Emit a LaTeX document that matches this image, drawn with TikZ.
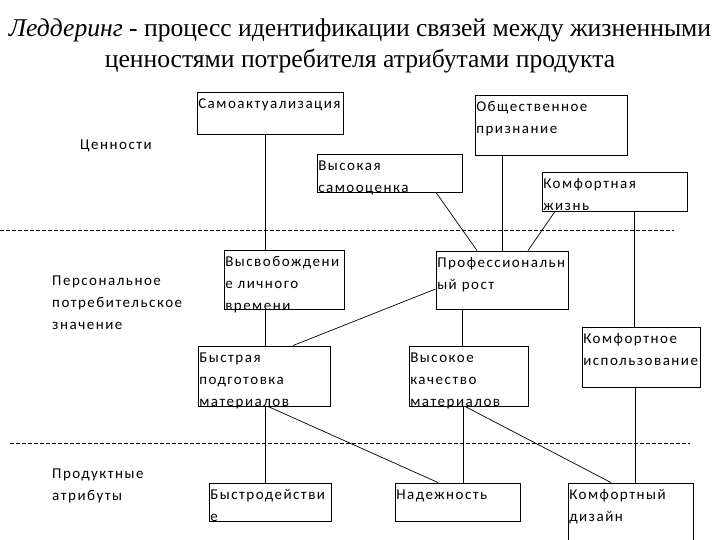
\documentclass[tikz,border=0pt]{standalone}
\usepackage{fontspec}
\setmainfont{Carlito}[LetterSpace=10]
\newfontfamily\titlefont{Liberation Serif}
\usetikzlibrary{fit}
\begin{document}
\begin{tikzpicture}[x=1pt,y=-1pt,
  box/.style={draw, line width=0.9pt, inner sep=0pt},
  txt/.style={anchor=north west, inner sep=0pt, align=left, xshift=1.5pt, yshift=-7pt, font=\fontsize{15}{22}\selectfont},
  lbl/.style={inner sep=0pt, align=left, font=\fontsize{15}{22}\selectfont},
  link/.style={line width=0.7pt},
  sep/.style={line width=0.7pt, dash pattern=on 4pt off 2pt}]
\useasboundingbox (0,0) rectangle (720,540);
% title
\node[inner sep=0pt, align=center, font=\titlefont\fontsize{25.6}{31}\selectfont] (title) at (360,46)
  {\textit{Леддеринг} - процесс идентификации связей между жизненными\\ценностями потребителя атрибутами продукта};
% row labels
\node[lbl] (lv) at (116,146) {Ценности};
\node[lbl, anchor=west] (lp) at (52,303) {Персональное\\потребительское\\значение};
\node[lbl, anchor=west] (la) at (52,486) {Продуктные\\атрибуты};
% separators
\coordinate (s1a) at (0,230); \coordinate (s1b) at (674,230);
\coordinate (s2a) at (10,443); \coordinate (s2b) at (690,443);
\draw[sep] (s1a) -- (s1b);
\draw[sep] (s2a) -- (s2b);
% boxes
\node[box, fit={(197,92) (343,134)}] (sa) {};
\node[txt] at (sa.north west) {Самоактуализация};
\node[box, fit={(475,95) (627,155)}] (op) {};
\node[txt] at (op.north west) {Общественное\\признание};
\node[box, fit={(317,154) (462,192)}] (vs) {};
\node[txt] at (vs.north west) {Высокая\\самооценка};
\node[box, fit={(542,172) (687,211)}] (kz) {};
\node[txt] at (kz.north west) {Комфортная\\жизнь};
\node[box, fit={(224,250) (344,309)}] (vv) {};
\node[txt] at (vv.north west) {Высвобождени\\е личного\\времени};
\node[box, fit={(436,251) (568,309)}] (pr) {};
\node[txt] at (pr.north west) {Профессиональн\\ый рост};
\node[box, fit={(582,327) (700,387)}] (ki) {};
\node[txt] at (ki.north west) {Комфортное\\использование};
\node[box, fit={(198,346) (330,406)}] (bp) {};
\node[txt] at (bp.north west) {Быстрая\\подготовка\\материалов};
\node[box, fit={(409,346) (528,406)}] (vk) {};
\node[txt] at (vk.north west) {Высокое\\качество\\материалов};
\node[box, fit={(209,483) (331,521)}] (bd) {};
\node[txt] at (bd.north west) {Быстродействи\\е};
\node[box, fit={(395,483) (520,521)}] (nd) {};
\node[txt] at (nd.north west) {Надежность};
\node[box, fit={(568,483) (693,548)}] (kd) {};
\node[txt] at (kd.north west) {Комфортный\\дизайн};
% vertical connectors
\draw[link] (265,0 |- sa.south) -- (265,0 |- vv.north);
\draw[link] (265,0 |- vv.south) -- (265,0 |- bp.north);
\draw[link] (265,0 |- bp.south) -- (265,0 |- bd.north);
\draw[link] (502,0 |- op.south) -- (502,0 |- pr.north);
\draw[link] (462,0 |- pr.south) -- (462,0 |- vk.north);
\draw[link] (463,0 |- vk.south) -- (463,0 |- nd.north);
\draw[link] (634,0 |- kz.south) -- (634,0 |- ki.north);
\draw[link] (635,0 |- ki.south) -- (635,0 |- kd.north);
% diagonal connectors
\draw[link] (436,0 |- vs.south) -- (477,0 |- pr.north);
\draw[link] (555,0 |- kz.south) -- (528,0 |- pr.north);
\draw[link] (pr.west |- 0,289) -- (293,0 |- bp.north);
\draw[link] (268,0 |- bp.south) -- (438,0 |- nd.north);
\draw[link] (465,0 |- vk.south) -- (611,0 |- kd.north);
\end{tikzpicture}
\end{document}
